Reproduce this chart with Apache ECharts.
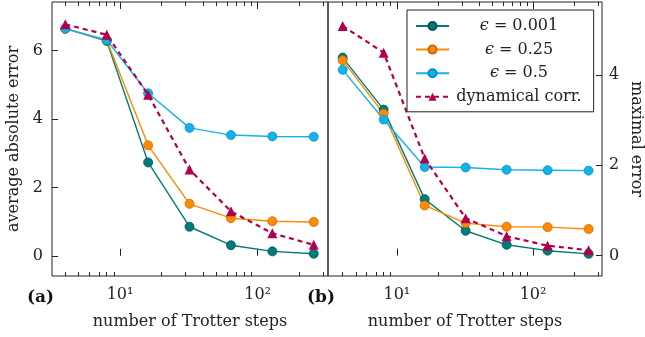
<!DOCTYPE html>
<html><head><meta charset="utf-8">
<script src="https://cdn.jsdelivr.net/npm/echarts@6/dist/echarts.min.js"></script>
<style>html,body{margin:0;padding:0;background:#fff}#c{width:645px;height:337px}</style>
</head><body><div id="c"></div>
<script>
// ---- data ----
const steps = [4, 8, 16, 32, 64, 128, 256];
const seriesNames = ['ϵ = 0.001', 'ϵ = 0.25', 'ϵ = 0.5', 'dynamical corr.'];
const avgErr001 = [6.64, 6.28, 2.73, 0.85, 0.31, 0.13, 0.06];
const avgErr025 = [6.64, 6.30, 3.23, 1.52, 1.10, 1.01, 0.99];
const avgErr05  = [6.64, 6.31, 4.75, 3.74, 3.53, 3.49, 3.48];
const avgErrDyn = [6.77, 6.46, 4.71, 2.52, 1.30, 0.66, 0.32];
const maxErr001 = [4.38, 3.23, 1.25, 0.55, 0.24, 0.11, 0.04];
const maxErr025 = [4.32, 3.14, 1.11, 0.72, 0.64, 0.63, 0.59];
const maxErr05  = [4.11, 3.01, 1.96, 1.95, 1.90, 1.89, 1.88];
const maxErrDyn = [5.08, 4.49, 2.15, 0.83, 0.43, 0.22, 0.12];
const yTicksAvg = [0, 2, 4, 6];
const yTicksMax = [0, 2, 4];
const xMajorTicks = [10, 100];
const xMinorTicks = [4, 5, 6, 7, 8, 9, 20, 30, 40, 50, 60, 70, 80, 90, 200, 300];
const xTickLabels = {10: '10¹', 100: '10²'};
const panelLabels = ['(a)', '(b)'];
const xName = 'number of Trotter steps';
const yNames = ['average absolute error', 'maximal error'];

// ---- style ----
const FONT = 'DejaVu Serif';
const colors = ['#007b7b', '#ff8a00', '#12b2ea', '#b3004c'];
const edgeColors = ['#005454', '#c96a00', '#0a8ebf', '#8a003a'];
const ink = '#222';

const grids = [
  {left: 52, top: 2, width: 276, height: 274, show: true, borderColor: ink, borderWidth: 1},
  {left: 328, top: 2, width: 275, height: 274, show: true, borderColor: ink, borderWidth: 1}
];
const xRanges = [[3.2, 325], [3.12, 321]];

function xAxisDef(gi, pos, ticks, len, labels) {
  const o = {
    type: 'log', logBase: 10, gridIndex: gi, position: pos,
    min: xRanges[gi][0], max: xRanges[gi][1],
    axisLine: {show: false},
    splitLine: {show: false},
    axisTick: {show: true, inside: true, length: len, customValues: ticks, lineStyle: {color: ink, width: 1}},
    axisLabel: {show: false}
  };
  if (labels) {
    o.axisLabel = {show: true, customValues: ticks, margin: 11, color: ink, fontFamily: FONT, fontSize: 16,
      formatter: v => xTickLabels[Math.round(v)] || ''};
    o.name = xName;
    o.nameLocation = 'middle';
    o.nameGap = 38;
    o.nameTextStyle = {color: ink, fontFamily: FONT, fontSize: 16};
  }
  return o;
}

const xAxes = [];
for (let gi = 0; gi < 2; gi++) {
  xAxes.push(xAxisDef(gi, 'bottom', xMajorTicks, 7, true));
  xAxes.push(xAxisDef(gi, 'top', xMajorTicks, 7, false));
  xAxes.push(xAxisDef(gi, 'bottom', xMinorTicks, 4, false));
  xAxes.push(xAxisDef(gi, 'top', xMinorTicks, 4, false));
}

const yAxes = [
  {type: 'value', gridIndex: 0, position: 'left', min: -0.59, max: 7.42,
   axisLine: {show: false}, splitLine: {show: false},
   axisTick: {show: true, inside: true, length: 6, customValues: yTicksAvg, lineStyle: {color: ink}},
   axisLabel: {customValues: yTicksAvg, margin: 9, color: ink, fontFamily: FONT, fontSize: 16},
   name: yNames[0], nameLocation: 'middle', nameRotate: 90, nameGap: 30,
   nameTextStyle: {color: ink, fontFamily: FONT, fontSize: 16}},
  {type: 'value', gridIndex: 1, position: 'right', min: -0.45, max: 5.61,
   axisLine: {show: false}, splitLine: {show: false},
   axisTick: {show: true, inside: true, length: 6, customValues: yTicksMax, lineStyle: {color: ink}},
   axisLabel: {customValues: yTicksMax, margin: 7, color: ink, fontFamily: FONT, fontSize: 16},
   name: yNames[1], nameLocation: 'middle', nameRotate: -90, nameGap: 26,
   nameTextStyle: {color: ink, fontFamily: FONT, fontSize: 16}}
];

const panels = [
  [avgErr001, avgErr025, avgErr05, avgErrDyn],
  [maxErr001, maxErr025, maxErr05, maxErrDyn]
];

const series = [];
panels.forEach((arrs, gi) => {
  arrs.forEach((vals, si) => {
    const dyn = si === 3;
    series.push({
      type: 'line', name: seriesNames[si],
      xAxisIndex: gi * 4, yAxisIndex: gi,
      data: steps.map((s, k) => [s, vals[k]]),
      symbol: dyn ? 'triangle' : 'circle',
      symbolSize: dyn ? 10 : 9,
      showSymbol: true,
      animation: false,
      z: dyn ? 3 : 2,
      lineStyle: {color: colors[si], width: dyn ? 2.2 : 1.4, type: dyn ? [5, 4] : 'solid'},
      itemStyle: {color: colors[si], borderColor: dyn ? colors[si] : edgeColors[si], borderWidth: dyn ? 0 : 0.8}
    });
  });
});

// legend text centering via measured widths
const LEG_W = 130;
const cv = document.createElement('canvas').getContext('2d');
function measure(txt, style) { cv.font = style + ' 16px "' + FONT + '"'; return cv.measureText(txt).width; }
const rich = {
  i: {fontFamily: FONT, fontSize: 16, fontStyle: 'italic', color: ink},
  t: {fontFamily: FONT, fontSize: 16, color: ink}
};
const legendFmt = {};
seriesNames.forEach((n, k) => {
  let w, body;
  if (n.startsWith('ϵ')) {
    const rest = n.slice(1);
    w = measure('ϵ', 'italic') + measure(rest, 'normal');
    body = '{i|ϵ}{t|' + rest + '}';
  } else {
    w = measure(n, 'normal');
    body = '{t|' + n + '}';
  }
  rich['p' + k] = {width: Math.max(0, (LEG_W - w) / 2), height: 16};
  legendFmt[n] = '{p' + k + '|}' + body;
});

const option = {
  animation: false,
  backgroundColor: '#fff',
  grid: grids,
  xAxis: xAxes,
  yAxis: yAxes,
  legend: {
    data: seriesNames, orient: 'vertical', left: 407, top: 10,
    itemWidth: 33, itemHeight: 10, itemGap: 7.6,
    padding: [8, 12, 7, 8],
    backgroundColor: '#fff', borderColor: ink, borderWidth: 1, borderRadius: 0,
    selectedMode: false,
    formatter: n => legendFmt[n],
    textStyle: {fontFamily: FONT, fontSize: 16, color: ink, rich: rich}
  },
  graphic: panelLabels.map((t, k) => ({
    type: 'text', left: k === 0 ? 27 : 307, top: 289,
    style: {text: t, fontFamily: FONT, fontSize: 17, fontWeight: 'bold', fill: '#111'}
  })),
  series: series
};

const chart = echarts.init(document.getElementById('c'), null, {renderer: 'canvas'});
chart.setOption(option);
</script>
</body></html>
